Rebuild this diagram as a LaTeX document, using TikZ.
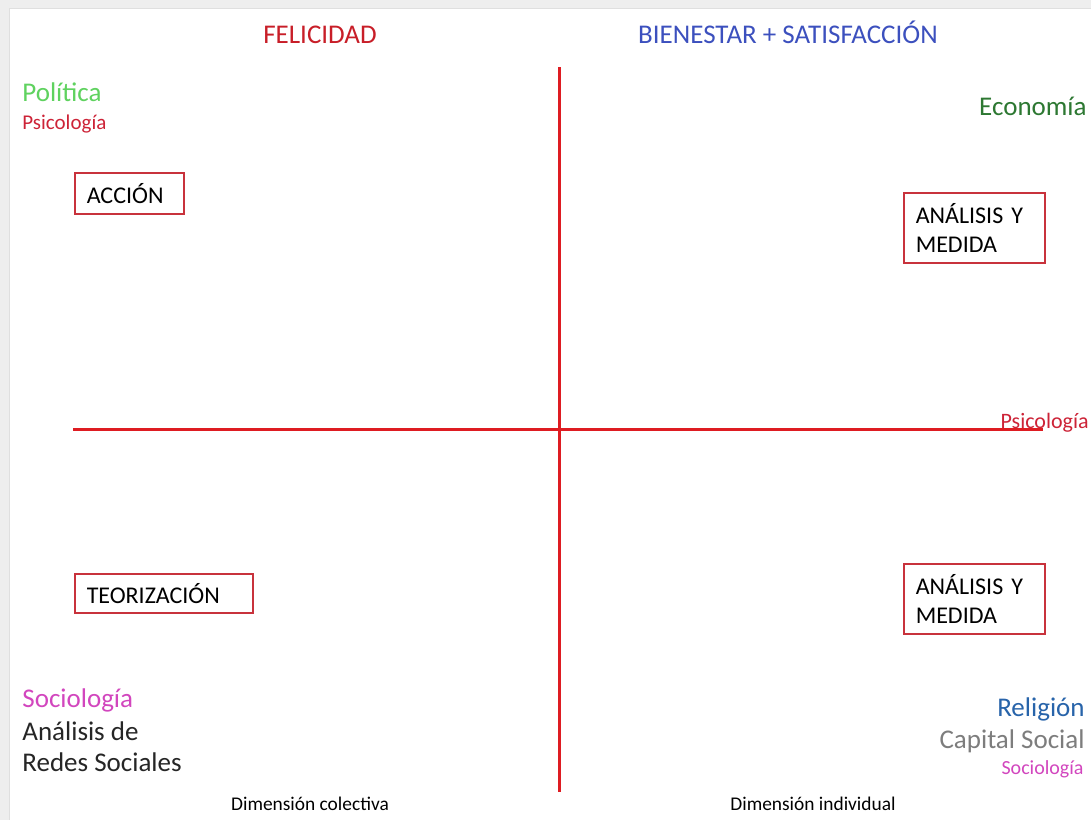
\documentclass[tikz,border=0pt]{standalone}
\usepackage{fontspec}
\setmainfont{Carlito}
\definecolor{axisred}{RGB}{222,28,34}
\definecolor{boxred}{RGB}{200,50,60}
\definecolor{titlered}{RGB}{200,30,40}
\definecolor{titleblue}{RGB}{60,80,190}
\definecolor{polgreen}{RGB}{95,210,95}
\definecolor{psired}{RGB}{205,35,55}
\definecolor{ecogreen}{RGB}{45,120,50}
\definecolor{socmag}{RGB}{210,70,190}
\definecolor{relblue}{RGB}{40,100,170}
\definecolor{capgrey}{RGB}{125,125,125}
\definecolor{framegrey}{RGB}{238,238,238}
\tikzset{
  big/.style={font=\fontsize{13.5}{14.5}\selectfont, inner sep=0pt},
  small/.style={font=\fontsize{10.5}{12}\selectfont, inner sep=0pt},
  dimtext/.style={font=\fontsize{9.7}{12}\selectfont, inner sep=0pt, text=black},
  qbox/.style={draw=boxred, line width=0.75pt, font=\fontsize{12}{14.5}\selectfont,
    align=left, inner xsep=6pt, inner ysep=0pt, anchor=north west},
  axis/.style={draw=axisred, line width=1.5pt}
}
\begin{document}
\begin{tikzpicture}[x=0.5pt,y=-0.5pt]
\useasboundingbox (0,0) rectangle (1091,820);
\fill[white] (0,0) rectangle (1091,820);
\fill[framegrey] (0,0) rectangle (1091,8);
\fill[framegrey] (0,0) rectangle (9,820);
\draw[gray!25, line width=0.5pt] (9,8) -- (1091,8);
\draw[gray!25, line width=0.5pt] (9,8) -- (9,820);

% titles
\node[big, text=titlered, anchor=base] (fel) at (320,43) {FELICIDAD};
\node[big, text=titleblue, anchor=base] (bien) at (788,43) {BIENESTAR + SATISFACCIÓN};

% top left
\node[big, text=polgreen, anchor=base west] (pol) at (22,101) {Política};
\node[small, text=psired, anchor=base west] (psi1) at (22,129) {Psicología};

% top right
\node[big, text=ecogreen, anchor=base east] (eco) at (1087,115) {Economía};

% boxes
\node[qbox, minimum width=54.5pt, minimum height=20.5pt, text width=42.5pt] (accion) at (74,172) {ACCIÓN};
\node[qbox, minimum width=70.5pt, minimum height=35pt, text width=58.5pt] (anal1) at (903,192) {ANÁLISIS Y\\MEDIDA};
\node[qbox, minimum width=89pt, minimum height=19.5pt, text width=77pt] (teor) at (74,573) {TEORIZACIÓN};
\node[qbox, minimum width=70.5pt, minimum height=35pt, text width=58.5pt] (anal2) at (903,563) {ANÁLISIS Y\\MEDIDA};

% right middle
\node[small, font=\fontsize{11}{12}\selectfont, text=psired, anchor=base east] (psi2) at (1089,428) {Psicología};

% axes
\coordinate (vtop) at (559,67);
\coordinate (vbot) at (559,792);
\coordinate (hleft) at (73,429);
\coordinate (hright) at (1043,429);
\draw[axis] (vtop) -- (vbot);
\draw[axis] (hleft) -- (hright);

% bottom left
\node[big, text=socmag, anchor=base west] (soc1) at (22,707) {Sociología};
\node[big, text=black!85, anchor=base west] (ars1) at (22,740) {Análisis de};
\node[big, text=black!85, anchor=base west] (ars2) at (22,771) {Redes Sociales};

% bottom right
\node[big, text=relblue, anchor=base east] (rel) at (1085,716) {Religión};
\node[big, text=capgrey, anchor=base east] (cap) at (1085,748) {Capital Social};
\node[small, font=\fontsize{10}{12}\selectfont, text=socmag, anchor=base east] (soc2) at (1084,774) {Sociología};

% dimensions
\node[dimtext, anchor=base] (dcol) at (310,810) {Dimensión colectiva};
\node[dimtext, anchor=base] (dind) at (813,810) {Dimensión individual};
\end{tikzpicture}
\end{document}
